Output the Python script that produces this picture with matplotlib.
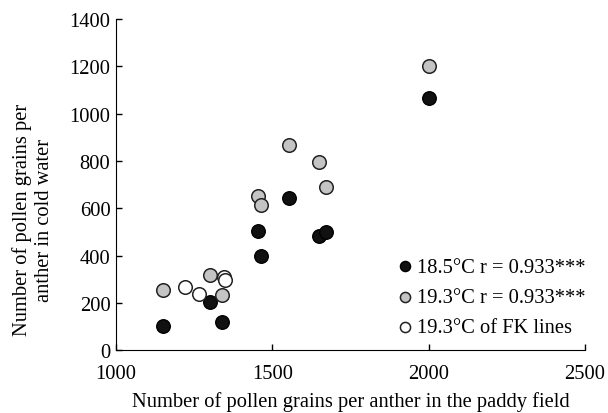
import matplotlib
matplotlib.use("Agg")
import matplotlib.pyplot as plt

plt.rcParams['font.family'] = ['Liberation Serif', 'DejaVu Serif']

# 18.5 C
black_x = [1150, 1302, 1340, 1453, 1464, 1554, 1651, 1673, 2002]
black_y = [100, 205, 117, 505, 398, 645, 482, 498, 1068]
# 19.3 C
gray_x = [1150, 1302, 1340, 1455, 1464, 1554, 1651, 1673, 2002]
gray_y = [252, 318, 232, 652, 612, 868, 795, 688, 1202]
# 19.3 C of FK lines
white_x = [1221, 1265, 1346, 1348]
white_y = [265, 238, 308, 295]

labels = ['18.5°C r = 0.933***', '19.3°C r = 0.933***', '19.3°C of FK lines']

fig = plt.figure(figsize=(6.08, 4.14), dpi=100)
ax = fig.add_axes([0.1908, 0.152, 0.771, 0.7995])

ms = 95
ax.scatter(black_x, black_y, s=ms, c='#111111', edgecolors='black', linewidths=1, label=labels[0], zorder=3)
ax.scatter(gray_x, gray_y, s=ms, c='#c4c4c4', edgecolors='#222222', linewidths=1.1, label=labels[1], zorder=3)
ax.scatter(white_x, white_y, s=ms, c='white', edgecolors='#222222', linewidths=1.1, label=labels[2], zorder=3)

ax.set_xlim(1000, 2500)
ax.set_ylim(0, 1400)
ax.set_xticks([1000, 1500, 2000, 2500])
ax.set_yticks(range(0, 1401, 200))
ax.spines['top'].set_visible(False)
ax.spines['right'].set_visible(False)
ax.tick_params(direction='in', length=4, width=1, labelsize=14.8, pad=4)
ax.tick_params(axis='x', pad=10)

ax.set_xlabel('Number of pollen grains per anther in the paddy field', fontsize=14.8, labelpad=6)
fig.text(33 / 608, 1 - 220 / 414, 'Number of pollen grains per\nanther in cold water',
         rotation=90, ha='center', va='center', multialignment='center', fontsize=14.8,
         linespacing=1.15)

ax.legend(loc='lower right', bbox_to_anchor=(1.02, 0.014), frameon=False, fontsize=14.8,
          markerscale=0.75, handletextpad=0.0, labelspacing=0.53, borderaxespad=0.0,
          handlelength=1.2)

fig.savefig('out.png', dpi=100)
